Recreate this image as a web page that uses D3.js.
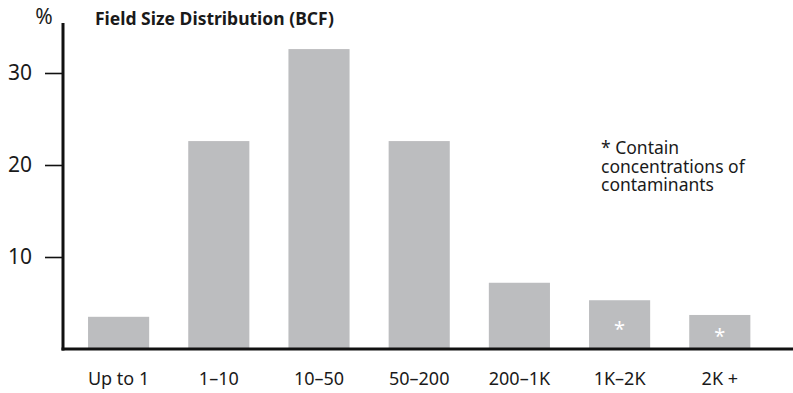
<!DOCTYPE html>
<html>
<head>
<meta charset="utf-8">
<script src="https://cdn.jsdelivr.net/npm/d3@7"></script>
<style>
  html, body { margin: 0; padding: 0; background: #fff; }
  svg { display: block; font-family: "Noto Sans", "Open Sans", sans-serif; }
</style>
</head>
<body>
<svg id="chart" width="793" height="393"></svg>
<script>
// Field size classes (BCF) and share of fields (%)
const categories = ["Up to 1", "1–10", "10–50", "50–200", "200–1K", "1K–2K", "2K +"];
const shares = [3.5, 22.6, 32.6, 22.6, 7.2, 5.3, 3.7];
const contaminated = [false, false, false, false, false, true, true];
const yTicks = [10, 20, 30];
const noteLines = ["* Contain", "concentrations of", "contaminants"];

const FONT = "'Noto Sans', 'Open Sans', sans-serif";
const INK = "#1a1a1a";
const svg = d3.select("#chart");
const W = 793;
const axisX = 63, baseY = 349;

const x = d3.scaleBand()
  .domain(categories)
  .range([65, 773.4])
  .paddingInner(0.39)
  .paddingOuter(0.23);

const y = d3.scaleLinear()
  .domain([0, 10])
  .range([baseY, baseY - 92]);

// bars
svg.append("g").selectAll("rect")
  .data(categories)
  .join("rect")
  .attr("x", d => x(d))
  .attr("width", x.bandwidth())
  .attr("y", (d, i) => y(shares[i]))
  .attr("height", (d, i) => y(0) - y(shares[i]))
  .attr("fill", "#bcbdbf");

// asterisks marking contaminated classes
svg.append("g").selectAll("text")
  .data(categories.filter((d, i) => contaminated[i]))
  .join("text")
  .attr("x", d => x(d) + x.bandwidth() / 2)
  .attr("y", d => (y(shares[categories.indexOf(d)]) + baseY) / 2 + 11)
  .attr("text-anchor", "middle")
  .attr("fill", "#fff")
  .attr("font-size", 20)
  .text("*");

// y axis
const yAxis = d3.axisLeft(y)
  .tickValues(yTicks)
  .tickSize(18)
  .tickPadding(13)
  .tickFormat(d3.format("d"));
const gy = svg.append("g")
  .attr("transform", `translate(${axisX},0)`)
  .call(yAxis);
gy.select(".domain").remove();
gy.selectAll(".tick line").attr("stroke", "#111").attr("stroke-width", 1.6);
gy.selectAll(".tick text")
  .attr("fill", INK)
  .attr("font-size", 21)
  .attr("font-family", FONT);

svg.append("line")
  .attr("x1", axisX).attr("x2", axisX)
  .attr("y1", 23).attr("y2", baseY + 1.5)
  .attr("stroke", "#111").attr("stroke-width", 3);

// x axis
const xAxis = d3.axisBottom(x).tickSize(0).tickPadding(23);
const gx = svg.append("g")
  .attr("transform", `translate(0,${baseY})`)
  .call(xAxis);
gx.select(".domain").remove();
gx.selectAll(".tick text")
  .attr("fill", INK)
  .attr("font-size", 18)
  .attr("font-family", FONT);

svg.append("line")
  .attr("x1", axisX - 1.5).attr("x2", W)
  .attr("y1", baseY).attr("y2", baseY)
  .attr("stroke", "#111").attr("stroke-width", 3);

// unit label and title
svg.append("text")
  .attr("x", 44).attr("y", 24)
  .attr("text-anchor", "middle")
  .attr("font-size", 21)
  .attr("fill", INK)
  .text("%");

svg.append("text")
  .attr("x", 95).attr("y", 25)
  .attr("font-size", 17.5)
  .attr("font-weight", "bold")
  .attr("fill", INK)
  .text("Field Size Distribution (BCF)");

// note
svg.append("g").selectAll("text")
  .data(noteLines)
  .join("text")
  .attr("x", 601)
  .attr("y", (d, i) => 154 + i * 18.5)
  .attr("font-size", 17.5)
  .attr("fill", INK)
  .text(d => d);
</script>
</body>
</html>
